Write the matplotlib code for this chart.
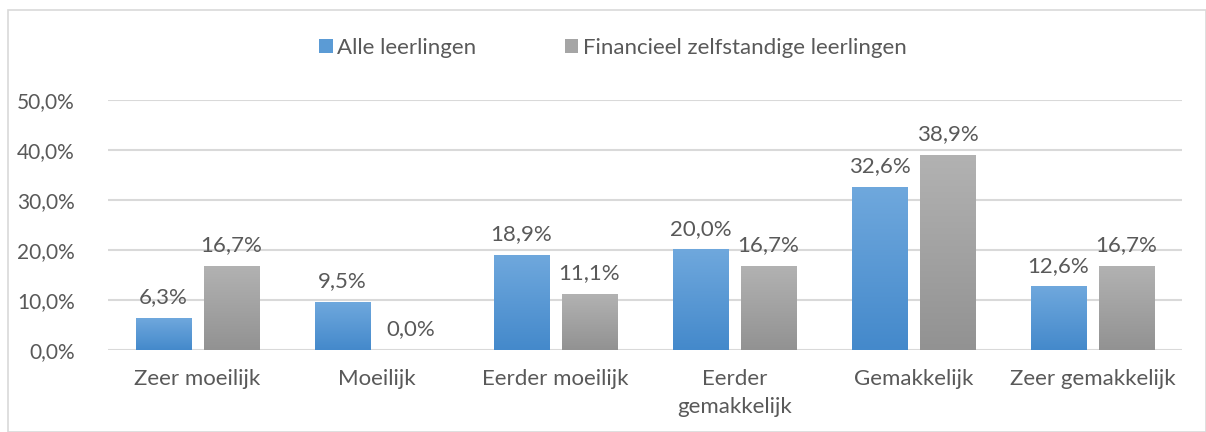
import matplotlib
matplotlib.use("Agg")
import matplotlib.pyplot as plt
import numpy as np
from matplotlib.colors import LinearSegmentedColormap
from matplotlib.patches import Rectangle

categories = ["Zeer moeilijk", "Moeilijk", "Eerder moeilijk", "Eerder\ngemakkelijk",
              "Gemakkelijk", "Zeer gemakkelijk"]
alle = [6.3, 9.5, 18.9, 20.0, 32.6, 12.6]
financieel = [16.7, 0.0, 11.1, 16.7, 38.9, 16.7]
series_names = ["Alle leerlingen", "Financieel zelfstandige leerlingen"]
yticks = [0, 10, 20, 30, 40, 50]

plt.rcParams['font.family'] = ['Lato', 'DejaVu Sans']
txt = "#595959"
fs = 16

fig = plt.figure(figsize=(12.06, 4.32), dpi=100)
fig.patches.append(Rectangle((8/1206, 0), 1 - 8/1206 - 0.5/1206, 1 - 10/432, transform=fig.transFigure,
                             fill=False, edgecolor="#d9d9d9", linewidth=1.2))
ax = fig.add_axes([108/1206, 1 - 350/432, (1182 - 108)/1206, 250/432])

x = np.arange(len(categories))
w = 0.31
off = 0.19
blue_cm = LinearSegmentedColormap.from_list("b", ["#4489cb", "#6fa8dd"])
gray_cm = LinearSegmentedColormap.from_list("g", ["#929292", "#b2b2b2"])
grad = np.linspace(0, 1, 256).reshape(-1, 1)

for vals, cm, d in [(alle, blue_cm, -off), (financieel, gray_cm, off)]:
    for xi, v in zip(x, vals):
        if v > 0:
            ax.imshow(grad, extent=[xi + d - w/2, xi + d + w/2, 0, v], origin="lower",
                      aspect="auto", cmap=cm, zorder=3)
        ax.text(xi + d, v + 2.2, f"{v:.1f}%".replace(".", ","), ha="center", va="bottom",
                fontsize=fs, color=txt, zorder=4)

ax.set_xlim(-0.5, len(categories) - 0.5)
ax.set_ylim(0, 50)
ax.set_yticks(yticks)
ax.set_yticklabels([f"{t:.1f}%".replace(".", ",") for t in yticks], fontsize=15, color=txt)
ax.set_xticks(x)
ax.set_xticklabels(categories, fontsize=fs, color=txt, linespacing=1.45)
ax.tick_params(axis="y", length=0, pad=24)
ax.tick_params(axis="x", length=0, pad=14)
ax.grid(axis="y", color="#d9d9d9", linewidth=1.5, zorder=0)
ax.set_axisbelow(True)
for s in ax.spines.values():
    s.set_visible(False)

handles = [Rectangle((0, 0), 1, 1, facecolor="#5b9bd5"), Rectangle((0, 0), 1, 1, facecolor="#a5a5a5")]
fig.legend(handles, series_names, loc="center", bbox_to_anchor=(613/1206, 1 - 48/432), ncol=2,
           frameon=False, fontsize=fs, labelcolor=txt, handlelength=0.6, handleheight=0.6,
           handletextpad=0.2, columnspacing=4.0)

fig.savefig("out.png", dpi=100)
